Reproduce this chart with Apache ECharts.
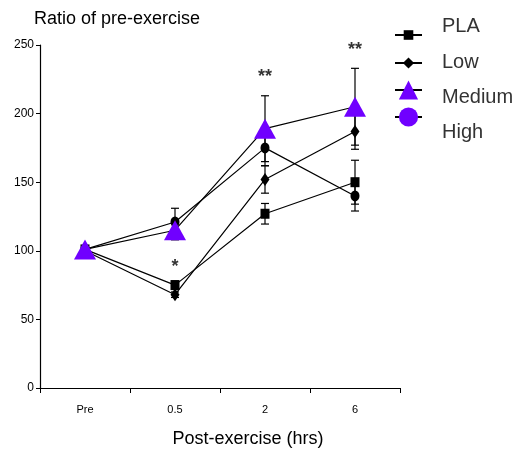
<!DOCTYPE html>
<html>
<head>
<meta charset="utf-8">
<script src="https://cdn.jsdelivr.net/npm/echarts@6/dist/echarts.min.js"></script>
<style>html,body{margin:0;padding:0;background:#fff;}#c{width:517px;height:450px;}</style>
</head>
<body>
<div id="c"></div>
<script>
const categories = ['Pre', '0.5', '2', '6'];
const yTicks = [0, 50, 100, 150, 200, 250];
const pla = [101, 75, 127, 150];
const plaErr = [0, 3, 7.5, 16];
const low = [100, 68, 152, 187];
const lowErr = [0, 2, 10, 13];
const medium = [101, 115, 189, 205];
const mediumErr = [0, 7, 24, 28];
const high = [101, 121, 175, 140];
const highErr = [0, 10, 13, 11];
const starCats = ['0.5', '2', '6'];
const starVals = [88.5, 227, 246];
const starText = ['*', '**', '**'];

const PURPLE = '#7000ff';
const sans = "'Liberation Sans', Arial, sans-serif";

function errData(vals, errs) {
  return vals.map((v, i) => [i, v - errs[i], v + errs[i]]);
}
const allErr = [].concat(
  errData(pla, plaErr), errData(low, lowErr),
  errData(medium, mediumErr), errData(high, highErr)
).filter(d => d[2] > d[1]);

function renderErr(params, api) {
  const x = api.value(0);
  const lo = api.coord([x, api.value(1)]);
  const hi = api.coord([x, api.value(2)]);
  const w = 4;
  const st = { stroke: '#000', lineWidth: 1.2 };
  return {
    type: 'group',
    children: [
      { type: 'line', shape: { x1: lo[0], y1: lo[1], x2: hi[0], y2: hi[1] }, style: st },
      { type: 'line', shape: { x1: lo[0] - w, y1: lo[1], x2: lo[0] + w, y2: lo[1] }, style: st },
      { type: 'line', shape: { x1: hi[0] - w, y1: hi[1], x2: hi[0] + w, y2: hi[1] }, style: st }
    ]
  };
}

function lineSeries(name, data, symbol, size, color, z) {
  return {
    name, type: 'line', data, symbol, symbolSize: size,
    itemStyle: { color: color },
    lineStyle: { color: '#000', width: 1.2 },
    z: z, animation: false
  };
}

const iconLegend = (name, top, h, extra) => ({
  orient: 'vertical', left: 394, top: top, itemWidth: 27, itemHeight: h,
  itemGap: 0, padding: 0, formatter: () => '', selectedMode: false,
  data: [Object.assign({ name: name }, extra || {})],
  textStyle: { fontSize: 1 }
});

const chart = echarts.init(document.getElementById('c'));
chart.setOption({
  animation: false,
  backgroundColor: '#fff',
  title: {
    text: 'Ratio of pre-exercise', left: 29, top: 5,
    textStyle: { fontFamily: sans, fontSize: 18, fontWeight: 'normal', color: '#000' }
  },
  legend: [
    iconLegend('PLA', 29, 12),
    iconLegend('Low', 56, 14),
    iconLegend('Medium', 78, 24),
    iconLegend('High', 105, 24, { itemStyle: { color: PURPLE } }),
    {
      orient: 'vertical', left: 435, top: 9, itemWidth: 1, itemHeight: 1, itemGap: 0,
      padding: 0, selectedMode: false,
      itemStyle: { opacity: 0 }, lineStyle: { opacity: 0 },
      data: ['PLA', 'Low', 'Medium', 'High'],
      textStyle: { fontFamily: sans, fontSize: 20, color: '#333', lineHeight: 35.4 }
    }
  ],
  grid: { left: 40, right: 117, top: 45, bottom: 62, outerBoundsMode: 'none', containLabel: false },
  xAxis: {
    type: 'category', data: categories, boundaryGap: true,
    name: 'Post-exercise (hrs)', nameLocation: 'middle', nameGap: 42,
    nameTextStyle: { fontFamily: sans, fontSize: 18, color: '#000', padding: [0, 0, 0, 56] },
    axisLine: { lineStyle: { color: '#000', width: 1.2 } },
    axisTick: { show: true, length: 5, lineStyle: { color: '#000' } },
    axisLabel: { fontFamily: sans, fontSize: 11, color: '#000', margin: 16 },
    splitLine: { show: false }
  },
  yAxis: {
    type: 'value', min: 0, max: 250, interval: 50,
    axisLine: { show: true, lineStyle: { color: '#000', width: 1.2 } },
    axisTick: { show: true, length: 4, lineStyle: { color: '#000' } },
    axisLabel: { fontFamily: sans, fontSize: 12, color: '#000', margin: 6,
      formatter: v => yTicks.indexOf(v) >= 0 ? String(v) : '' },
    splitLine: { show: false }
  },
  series: [
    {
      type: 'custom', name: 'err', renderItem: renderErr, data: allErr,
      encode: { x: 0, y: [1, 2] }, z: 1, silent: true
    },
    lineSeries('PLA', pla, 'rect', [9, 10], '#000', 3),
    lineSeries('Low', low, 'diamond', [9, 13], '#000', 3),
    lineSeries('High', high, 'circle', [9, 11], '#000', 3),
    lineSeries('Medium', medium, 'triangle', [22, 20], PURPLE, 4),
    {
      type: 'scatter', name: 'stars', symbol: 'circle', symbolSize: 2,
      itemStyle: { color: 'rgba(0,0,0,0)' },
      data: starCats.map((c, i) => ({ value: [c, starVals[i]], label: { show: true, formatter: starText[i] } })),
      label: { show: true, position: 'inside', fontFamily: sans, fontSize: 18, fontWeight: 'bold', color: '#000' },
      silent: true, z: 5
    }
  ]
});
</script>
</body>
</html>
